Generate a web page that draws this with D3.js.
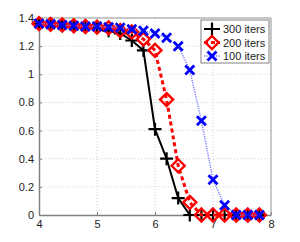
<!DOCTYPE html>
<html>
<head>
<meta charset="utf-8">
<script src="https://cdn.jsdelivr.net/npm/d3@7"></script>
<style>
  body { margin: 0; background: #fff; }
  text { font-family: "Liberation Sans", Arial, sans-serif; }
</style>
</head>
<body>
<div id="chart"></div>
<script>
// x positions (0.2 steps)
const xVals = [4.0, 4.2, 4.4, 4.6, 4.8, 5.0, 5.2, 5.4, 5.6, 5.8, 6.0, 6.2, 6.4, 6.6, 6.8, 7.0, 7.2, 7.4, 7.6, 7.8];
// series
const iters300 = [1.36, 1.355, 1.35, 1.345, 1.34, 1.33, 1.31, 1.29, 1.24, 1.17, 0.61, 0.40, 0.12, 0, 0, 0, 0, 0, 0, 0];
const iters200 = [1.36, 1.355, 1.35, 1.345, 1.34, 1.335, 1.33, 1.31, 1.30, 1.25, 1.17, 0.82, 0.35, 0.09, 0, 0, 0, 0, 0, 0];
const iters100 = [1.36, 1.355, 1.35, 1.345, 1.34, 1.34, 1.335, 1.33, 1.32, 1.31, 1.29, 1.26, 1.20, 1.03, 0.67, 0.25, 0.07, 0, 0, 0];
const seriesNames = ["300 iters", "200 iters", "100 iters"];
const xTicks = [4, 5, 6, 7, 8];
const yTicks = [0, 0.2, 0.4, 0.6, 0.8, 1, 1.2, 1.4];

const width = 300, height = 242;
const margin = {top: 18, right: 29, bottom: 27, left: 39};
const w = width - margin.left - margin.right;
const h = height - margin.top - margin.bottom;

const svg = d3.select("#chart").append("svg")
    .attr("width", width)
    .attr("height", height);

const g = svg.append("g")
    .attr("transform", `translate(${margin.left},${margin.top})`);

const x = d3.scaleLinear().domain([4, 8]).range([0, w]);
const y = d3.scaleLinear().domain([0, 1.4]).range([h, 0]);

// grid
g.append("g").selectAll("line.vg")
  .data(xTicks.slice(1, -1))
  .join("line")
    .attr("x1", d => x(d)).attr("x2", d => x(d))
    .attr("y1", 0).attr("y2", h)
    .attr("stroke", "#c8c8c8").attr("stroke-width", 0.8)
    .attr("stroke-dasharray", "1,2");
g.append("g").selectAll("line.hg")
  .data(yTicks.slice(1, -1))
  .join("line")
    .attr("x1", 0).attr("x2", w)
    .attr("y1", d => y(d)).attr("y2", d => y(d))
    .attr("stroke", "#c8c8c8").attr("stroke-width", 0.8)
    .attr("stroke-dasharray", "1,2");

// axes
const xAxis = g.append("g")
    .attr("transform", `translate(0,${h})`)
    .call(d3.axisBottom(x).tickValues(xTicks).tickFormat(d3.format("d")).tickSizeInner(-3).tickSizeOuter(0).tickPadding(5));
const yAxis = g.append("g")
    .call(d3.axisLeft(y).tickValues(yTicks).tickFormat(d => d === 0 || d === 1 ? String(d) : d3.format(".1f")(d)).tickSizeInner(-3).tickSizeOuter(0).tickPadding(5));
[xAxis, yAxis].forEach(a => {
  a.selectAll("text").attr("font-size", 11).attr("fill", "#222");
  a.selectAll(".tick line").attr("stroke", "#808080");
  a.select(".domain").attr("stroke", "#808080").attr("stroke-width", 1.5);
});
// top and right frame
g.append("line").attr("x1", 0).attr("x2", w).attr("y1", 0).attr("y2", 0)
  .attr("stroke", "#909090").attr("stroke-width", 1);
g.append("line").attr("x1", w).attr("x2", w).attr("y1", 0).attr("y2", h)
  .attr("stroke", "#909090").attr("stroke-width", 1);

const line = d3.line().x((d, i) => x(xVals[i])).y(d => y(d));

// marker drawers
function plusMark(sel, s) {
  sel.append("path").attr("d", `M${-s},0H${s}M0,${-s}V${s}`);
}
function diamondMark(sel, s) {
  sel.append("path").attr("d", `M0,${-s}L${s},0L0,${s}L${-s},0Z`);
}
function crossMark(sel, s) {
  sel.append("path").attr("d", `M${-s},${-s}L${s},${s}M${-s},${s}L${s},${-s}`);
}

const series = [
  {name: seriesNames[0], values: iters300, color: "#000", lw: 2, dash: null, mk: plusMark, ms: 6.5, mw: 2.2},
  {name: seriesNames[1], values: iters200, color: "#ff0000", lw: 3, dash: "4,3", mk: diamondMark, ms: 6.5, mw: 2.4},
  {name: seriesNames[2], values: iters100, color: "#0000ff", lw: 1.5, dash: "1.2,1.2", mk: crossMark, ms: 4.5, mw: 2.8, lineColor: "#7a7aff"}
];

series.forEach(s => {
  g.append("path")
    .datum(s.values)
    .attr("d", line)
    .attr("fill", "none")
    .attr("stroke", s.lineColor || s.color)
    .attr("stroke-width", s.lw)
    .attr("stroke-dasharray", s.dash);
  s.values.forEach((v, i) => {
    const m = g.append("g")
      .attr("transform", `translate(${x(xVals[i])},${y(v)})`)
      .attr("fill", "none")
      .attr("stroke", s.color)
      .attr("stroke-width", s.mw);
    s.mk(m, s.ms);
  });
});

// legend
const lg = g.append("g").attr("transform", `translate(${w - 70},2)`);
lg.append("rect").attr("width", 68).attr("height", 43)
  .attr("fill", "#fff").attr("stroke", "#808080").attr("stroke-width", 1);
series.forEach((s, i) => {
  const yy = 9 + i * 13.5;
  lg.append("line").attr("x1", 3).attr("x2", 19).attr("y1", yy).attr("y2", yy)
    .attr("stroke", s.lineColor || s.color).attr("stroke-width", s.lw)
    .attr("stroke-dasharray", s.dash);
  const m = lg.append("g").attr("transform", `translate(11,${yy})`)
    .attr("fill", "none").attr("stroke", s.color).attr("stroke-width", s.mw);
  s.mk(m, s.ms);
  lg.append("text").attr("x", 22).attr("y", yy + 4)
    .attr("font-size", 11).attr("fill", "#222").text(s.name);
});
</script>
</body>
</html>
